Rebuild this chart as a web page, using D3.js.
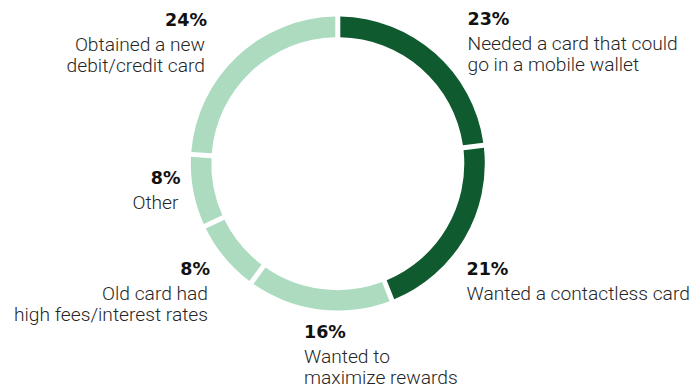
<!DOCTYPE html>
<html>
<head>
<meta charset="utf-8">
<script src="https://cdn.jsdelivr.net/npm/d3@7"></script>
<style>
  html, body { margin: 0; padding: 0; background: #fff; }
  svg { display: block; }
</style>
</head>
<body>
<svg id="chart" width="691" height="388"></svg>
<script>
// Reasons for switching cards, clockwise from 12 o'clock
const reasons = [
  "Needed a card that could go in a mobile wallet",
  "Wanted a contactless card",
  "Wanted to maximize rewards",
  "Old card had high fees/interest rates",
  "Other",
  "Obtained a new debit/credit card"
];
const shares = [23, 21, 16, 8, 8, 24];
const highlighted = [true, true, false, false, false, false];
// Label text broken into lines
const labelLines = [
  ["Needed a card that could", "go in a mobile wallet"],
  ["Wanted a contactless card"],
  ["Wanted to", "maximize rewards"],
  ["Old card had", "high fees/interest rates"],
  ["Other"],
  ["Obtained a new", "debit/credit card"]
];

// Label placement: anchor point (number baseline) and alignment per slice
const labelLayout = [
  { x: 467.5, y: 25,  anchor: "start" },
  { x: 466.5, y: 275, anchor: "start" },
  { x: 304,   y: 338, anchor: "start" },
  { x: 210,   y: 275, anchor: "end" },
  { x: 180.5, y: 184, anchor: "end" },
  { x: 207,   y: 26,  anchor: "end" }
];

const cx = 337.8, cy = 163.6;
const outerR = 147, innerR = 126.5;
const gap = 5;

const svg = d3.select("#chart");
const g = svg.append("g").attr("transform", `translate(${cx},${cy})`);

const pie = d3.pie().sort(null).value(d => d.share);
const padR = Math.sqrt(innerR * innerR + outerR * outerR);
const arc = d3.arc()
  .innerRadius(innerR)
  .outerRadius(outerR)
  .padRadius(padR)
  .padAngle(gap / padR);

const rows = shares.map((s, i) => ({
  reason: reasons[i], share: s, hi: highlighted[i], lines: labelLines[i]
}));

const color = d3.scaleOrdinal().domain([true, false]).range(["#0f5a2f", "#acdbc0"]);

g.selectAll("path.slice")
  .data(pie(rows))
  .join("path")
  .attr("class", "slice")
  .attr("d", arc)
  .attr("fill", d => color(d.data.hi));

// Labels
const labels = svg.selectAll("g.label")
  .data(rows)
  .join("g")
  .attr("class", "label")
  .attr("transform", (d, i) => `translate(${labelLayout[i].x},${labelLayout[i].y})`);

labels.append("text")
  .attr("text-anchor", (d, i) => labelLayout[i].anchor)
  .attr("font-family", "'DejaVu Sans', sans-serif")
  .attr("font-weight", 700)
  .attr("font-size", 17.5)
  .attr("fill", "#111")
  .text(d => d.share + "%");

labels.each(function (d, i) {
  const t = d3.select(this).append("text")
    .attr("text-anchor", labelLayout[i].anchor)
    .attr("font-family", "Roboto, sans-serif")
    .attr("font-weight", 300)
    .attr("font-size", 19.2)
    .attr("fill", "#262626");
  d.lines.forEach((line, k) => {
    t.append("tspan")
      .attr("x", labelLayout[i].anchor === "end" ? -2 : 0)
      .attr("y", 24.5 + k * 21.5)
      .text(line);
  });
});
</script>
</body>
</html>
